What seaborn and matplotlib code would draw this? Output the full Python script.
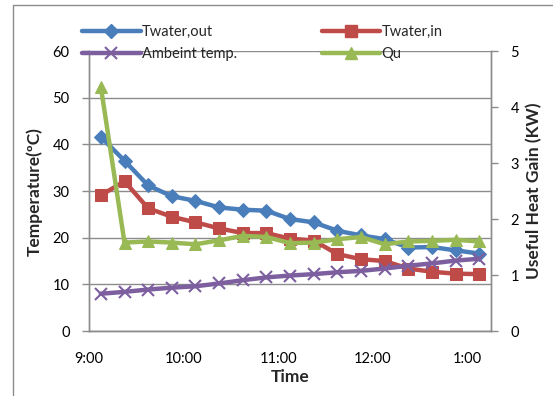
#Recreates the water temperature / useful heat gain chart
import pandas as pd
import matplotlib.pyplot as plt
import seaborn as sns
from matplotlib.lines import Line2D

sns.set_style("white")
plt.rcParams['font.family'] = ['Lato', 'DejaVu Sans']

#x positions are category slots, labels every 4 slots
slots = list(range(17))
tick_slots = [0, 4, 8, 12, 16]
tick_labels = ["9:00", "10:00", "11:00", "12:00", "1:00"]

t_out = [41.6, 36.5, 31.2, 28.9, 27.9, 26.5, 26.0, 25.8, 24.0, 23.3, 21.5, 20.5, 19.7, 17.9, 18.0, 17.3, 16.6]
t_in = [29.1, 32.1, 26.3, 24.5, 23.3, 22.0, 21.0, 21.0, 19.8, 19.4, 16.5, 15.4, 15.0, 13.4, 12.7, 12.3, 12.2]
t_amb = [8.0, 8.4, 8.9, 9.3, 9.6, 10.2, 10.9, 11.5, 11.9, 12.2, 12.6, 12.9, 13.4, 14.0, 14.5, 15.1, 15.5]
qu = [4.36, 1.58, 1.60, 1.58, 1.55, 1.62, 1.70, 1.68, 1.57, 1.58, 1.64, 1.68, 1.55, 1.60, 1.61, 1.63, 1.60]

df = pd.DataFrame({"x": [s + 0.5 for s in slots], "out": t_out, "in": t_in, "amb": t_amb, "qu": qu})

blue = "#4A7EBB"
red = "#BE4B48"
purple = "#7D5FA0"
green = "#98B954"
gray = "#8C8C8C"

fig = plt.figure(figsize=(5.53, 3.96), dpi=100)
ax = fig.add_axes([0.161, 0.164, 0.727, 0.707])
ax2 = ax.twinx()

lw = 3.2
sns.lineplot(data=df, x="x", y="out", ax=ax, color=blue, lw=lw, marker="D", markersize=7, markeredgecolor=blue)
sns.lineplot(data=df, x="x", y="in", ax=ax, color=red, lw=lw, marker="s", markersize=8, markeredgecolor=red)
sns.lineplot(data=df, x="x", y="amb", ax=ax, color=purple, lw=lw, marker="x", markersize=8, markeredgewidth=1.5, markeredgecolor=purple)
sns.lineplot(data=df, x="x", y="qu", ax=ax2, color=green, lw=lw, marker="^", markersize=8, markeredgecolor=green)

ax.set_xlim(0, 17)
ax.set_ylim(0, 60)
ax2.set_ylim(0, 5)
ax.set_yticks(range(0, 61, 10))
ax2.set_yticks(range(0, 6))
ax.set_xticks(tick_slots)
ax.set_xticklabels(tick_labels)

ax.grid(axis="y", color=gray, lw=1)
ax.set_axisbelow(True)
for a in (ax, ax2):
    a.spines["top"].set_visible(False)
    for side in ("left", "bottom", "right"):
        a.spines[side].set_color(gray)
        a.spines[side].set_linewidth(1)
    a.tick_params(colors="black", labelsize=10.5, length=5, width=1, color=gray, direction="out", pad=9)
ax.tick_params(axis="x", pad=10)

ax.set_xlabel("Time", fontsize=12.5, fontweight="bold", labelpad=2)
ax.set_ylabel("Temperature(ºC)", fontsize=12.5, fontweight="bold", labelpad=7)
ax2.set_ylabel("Useful Heat Gain (KW)", fontsize=12.5, fontweight="bold", labelpad=5)

handles = [
    Line2D([], [], color=blue, lw=lw, marker="D", markersize=7),
    Line2D([], [], color=purple, lw=lw, marker="x", markersize=8, markeredgewidth=1.5),
    Line2D([], [], color=red, lw=lw, marker="s", markersize=8),
    Line2D([], [], color=green, lw=lw, marker="^", markersize=8),
]
labels = ["Twater,out", "Ambeint temp.", "Twater,in", "Qu"]
fig.legend(handles, labels, ncol=2, loc="upper left", bbox_to_anchor=(0.125, 0.97),
           frameon=False, fontsize=10.5, handlelength=4, handletextpad=0.1,
           columnspacing=5.8, labelspacing=0.55)

#chart area border
fig.add_artist(Line2D([0.023, 0.023], [0, 0.987], color=gray, lw=1))
fig.add_artist(Line2D([0.023, 1], [0.987, 0.987], color=gray, lw=1))

plt.savefig("out.png", dpi=100)
